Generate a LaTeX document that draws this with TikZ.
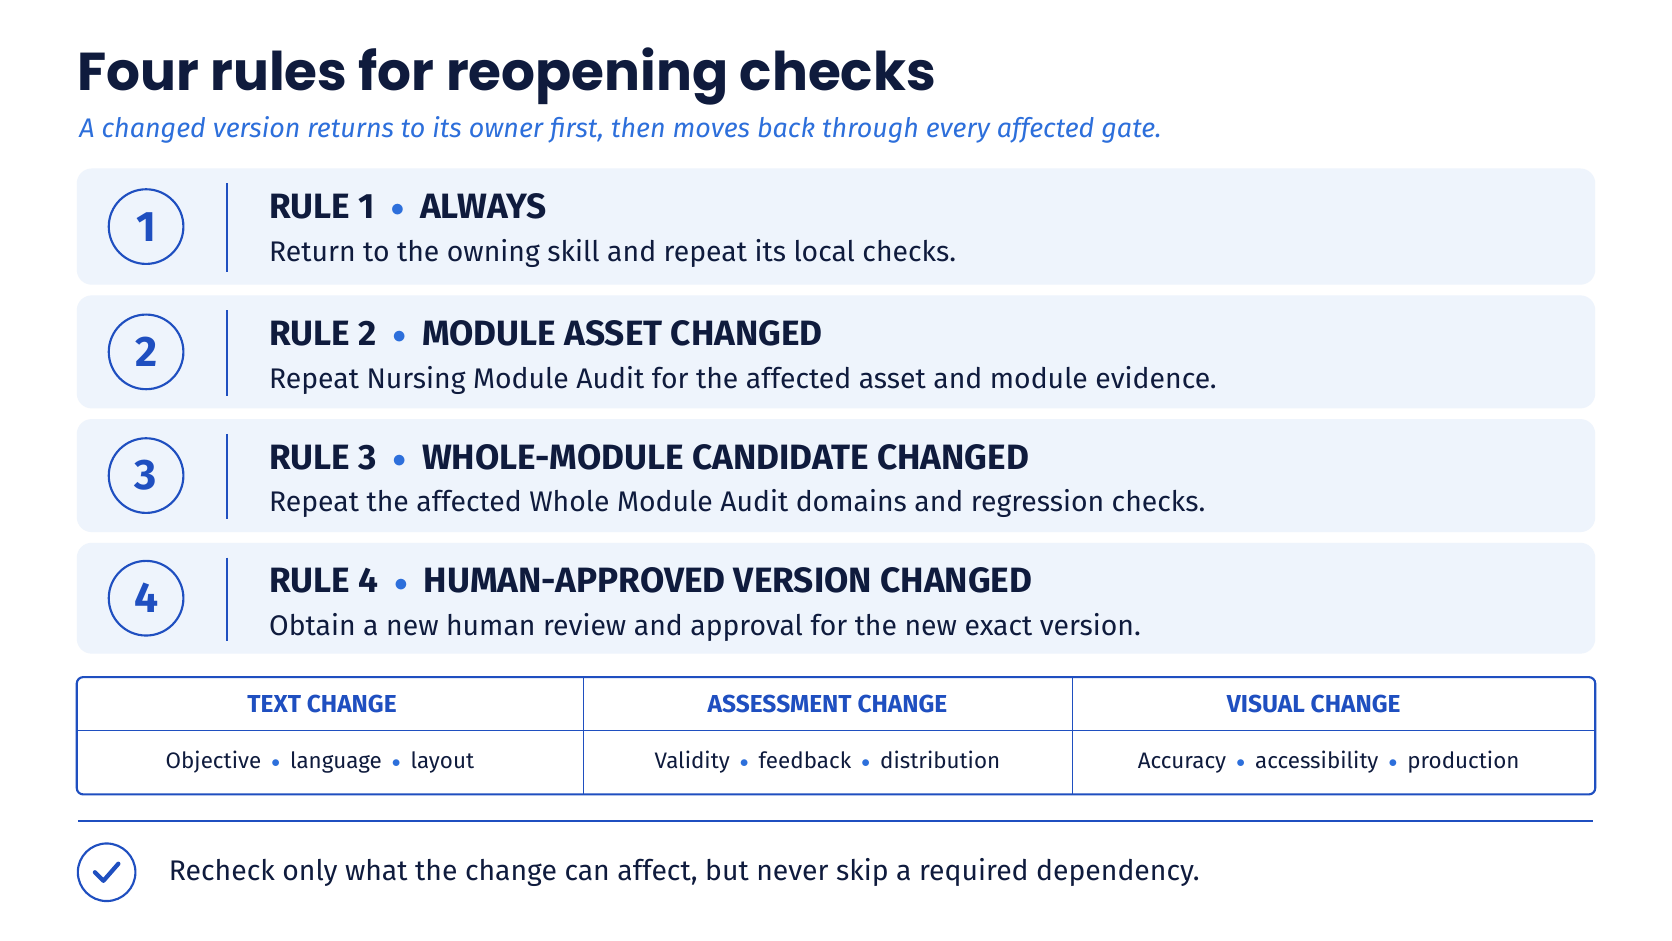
\documentclass[tikz,border=0pt]{standalone}
\usepackage{fontspec}
\setmainfont{Fira Sans}
\newfontfamily\titlefont{Poppins}
\definecolor{ink}{HTML}{0F1B3D}
\definecolor{accent}{HTML}{1F4FC0}
\definecolor{sub}{HTML}{2D6FDB}
\definecolor{card}{HTML}{EEF4FC}
\definecolor{dot}{HTML}{2D6FDB}
\begin{document}
\begin{tikzpicture}[x=0.5pt,y=-0.5pt,
  cardbox/.style={fill=card,draw=none,rounded corners=7pt},
  num/.style={circle,draw=accent,line width=1pt,minimum size=35pt,inner sep=0pt,text=accent,font=\bfseries\fontsize{20}{24}\selectfont},
  head/.style={anchor=base west,inner sep=0pt,text=ink,font=\bfseries\fontsize{16.5}{20}\selectfont},
  body/.style={anchor=base west,inner sep=0pt,text=ink,font=\fontsize{13.3}{16}\selectfont},
  sep/.style={draw=accent,line width=0.6pt},
  th/.style={text=accent,font=\bfseries\fontsize{11.5}{14}\selectfont,inner sep=0pt},
  td/.style={text=ink,font=\fontsize{10.5}{13}\selectfont,inner sep=0pt}]
\useasboundingbox[fill=white] (0,0) rectangle (1568,882);
\newcommand\bul{\hspace{0.45em}\textcolor{dot}{\raisebox{0.05em}{\scalebox{0.75}{$\bullet$}}}\hspace{0.45em}}
\node[anchor=base west,inner sep=0pt,text=ink,font=\titlefont\bfseries\fontsize{25}{30}\selectfont] (title) at (72,85) {Four rules for reopening checks};
\node[anchor=base west,inner sep=0pt,text=sub,font=\itshape\fontsize{12.6}{16}\selectfont] (subtitle) at (74,129) {A changed version returns to its owner first, then moves back through every affected gate.};
\foreach \i/\t/\b/\h/\d in {1/158/267/RULE 1\bul ALWAYS/Return to the owning skill and repeat its local checks.,
  2/277/383/RULE 2\bul MODULE ASSET CHANGED/Repeat Nursing Module Audit for the affected asset and module evidence.,
  3/393/499/RULE 3\bul WHOLE-MODULE CANDIDATE CHANGED/Repeat the affected Whole Module Audit domains and regression checks.,
  4/509/613/RULE 4\bul HUMAN-APPROVED VERSION CHANGED/Obtain a new human review and approval for the new exact version.}{
  \path[cardbox] (72,\t) rectangle (1496,\b);
  \node[num] (n\i) at (137,{(\t+\b)/2}) {\i};
  \draw[sep] (213,{\t+14}) -- (213,{\b-12});
  \node[head] (h\i) at (252,{\t+47}) {\h};
  \node[body] (b\i) at (252,{\t+87}) {\d};
}
\draw[accent,line width=1pt,rounded corners=3pt] (72,635) rectangle (1496,745);
\draw[sep] (72,685) -- (1496,685) (547,635) -- (547,745) (1006,635) -- (1006,745);
\node[th] (c1) at (302,660) {TEXT CHANGE};
\node[th] (c2) at (776,660) {ASSESSMENT CHANGE};
\node[th] (c3) at (1232,660) {VISUAL CHANGE};
\node[td] (d1) at (300,715) {Objective\bul language\bul layout};
\node[td] (d2) at (776,715) {Validity\bul feedback\bul distribution};
\node[td] (d3) at (1246,715) {Accuracy\bul accessibility\bul production};
\draw[accent,line width=0.8pt] (73,770) -- (1494,770);
\node[circle,draw=accent,line width=1pt,minimum size=27pt,inner sep=0pt] (chk) at (100,818) {};
\draw[accent,line width=2pt,line cap=round,line join=round] ([shift={(-11,0)}]chk.center) -- ([shift={(-3,8)}]chk.center) -- ([shift={(11,-8)}]chk.center);
\node[anchor=west,inner sep=0pt,text=ink,font=\fontsize{13.3}{16}\selectfont] (note) at (158,818) {Recheck only what the change can affect, but never skip a required dependency.};
\end{tikzpicture}
\end{document}
